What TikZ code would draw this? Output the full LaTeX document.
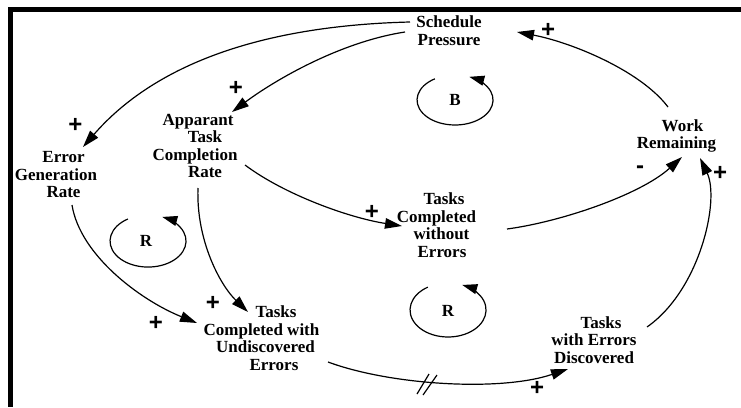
\documentclass[tikz,border=0pt]{standalone}
\usepackage{fontspec}
\setmainfont{Liberation Serif}
\newfontfamily\signfont{Liberation Sans}
\usetikzlibrary{arrows.meta}
\newcommand{\lsh}[1]{\hspace*{#1pt}}
\tikzset{
  var/.style={align=center, font=\fontsize{17}{17.5}\selectfont\bfseries, inner sep=0pt},
  link/.style={line width=1.2pt, -{Triangle[length=17pt,width=10.5pt]}},
  sign/.style={font=\signfont\bfseries\fontsize{24}{24}\selectfont, inner sep=0pt},
  loopname/.style={font=\fontsize{17}{17}\selectfont\bfseries, inner sep=0pt},
  looparc/.style={line width=1.2pt, -{Triangle[length=15pt,width=10pt]}},
}
\begin{document}
\begin{tikzpicture}[x=1pt,y=-1pt]
\useasboundingbox (0,0) rectangle (741,407);
% frame
\draw[line width=4.5pt, line join=miter] (741,9.5) -- (10.3,9.5) -- (10.3,407);

% variables
\node[var] (sp)   at (449,30.5)   {Schedule\\Pressure};
\node[var] (atcr) at (195,146)    {\lsh{6}Apparant\\\lsh{20}Task\\Completion\\\lsh{20}Rate};
\node[var] (egr)  at (56,175)     {\lsh{15}Error\\Generation\\\lsh{15}Rate};
\node[var] (wr)   at (676.5,136)  {\lsh{12}Work\\Remaining};
\node[var] (tcwe) at (436.5,225)  {\lsh{15}Tasks\\Completed\\\lsh{10}without\\\lsh{11}Errors};
\node[var] (tcue) at (261.5,338)  {\lsh{29}Tasks\\Completed with\\\lsh{8}Undiscovered\\\lsh{25}Errors};
\node[var] (twed) at (594,340)    {\lsh{14}Tasks\\with Errors\\Discovered};

% loop labels
\node[loopname] (lb)  at (455,100) {B};
\node[loopname] (lr1) at (146,241) {R};
\node[loopname] (lr2) at (448,311) {R};

% connectors
\draw[link] ([shift={(-39,-8.5)}]sp.center) .. controls (250,26) and (150,70) .. ([shift={(27,-28)}]egr.center);
\draw[link] ([shift={(-44,1.5)}]sp.center) .. controls (340,42) and (275,80) .. ([shift={(37,-34)}]atcr.center);
\draw[link] ([shift={(-8.5,-29)}]wr.center) .. controls (640,70) and (570,42) .. ([shift={(68,1.5)}]sp.center);
\draw[link] ([shift={(50,19)}]atcr.center) .. controls (285,195) and (350,218) .. ([shift={(-34.5,1)}]tcwe.center);
\draw[link] ([shift={(70.5,4)}]tcwe.center) .. controls (560,222) and (640,195) .. ([shift={(5.5,21)}]wr.center);
\draw[link] ([shift={(53,-13)}]twed.center) .. controls (700,290) and (720,200) .. ([shift={(23.5,22)}]wr.center);
\draw[link] ([shift={(3,42)}]atcr.center) .. controls (196,240) and (220,285) .. ([shift={(-13.5,-26)}]tcue.center);
\draw[link] ([shift={(16,30)}]egr.center) .. controls (80,255) and (140,300) .. ([shift={(-64.5,-15)}]tcue.center);
\draw[link] ([shift={(66.5,24)}]tcue.center) .. controls (390,385) and (500,392) .. ([shift={(-26,29)}]twed.center);

% delay mark
\draw[line width=1.2pt] (417,394) -- (429,374);
\draw[line width=1.2pt] (423,395) -- (437,375);

% loops
\draw[looparc] ([shift={(-20.1,-21.2)}]lb.center) arc[start angle=-122, end angle=-428, x radius=38, y radius=25];
\draw[looparc] ([shift={(-18.1,-22)}]lr1.center) arc[start angle=-122, end angle=-428, x radius=38, y radius=26];
\draw[looparc] ([shift={(-20.1,-23.9)}]lr2.center) arc[start angle=-122, end angle=-428, x radius=38, y radius=27];

% polarities
\node[sign] (s1) at (75.5,125.5) {+};
\node[sign] (s2) at (236,88)  {+};
\node[sign] (s3) at (548,30.5) {+};
\node[sign] (s4) at (372,212) {+};
\node[sign] (s5) at (640,170) {-};
\node[sign] (s6) at (720,173) {+};
\node[sign] (s7) at (213,303) {+};
\node[sign] (s8) at (156,323) {+};
\node[sign] (s9) at (537,388) {+};
\end{tikzpicture}
\end{document}
